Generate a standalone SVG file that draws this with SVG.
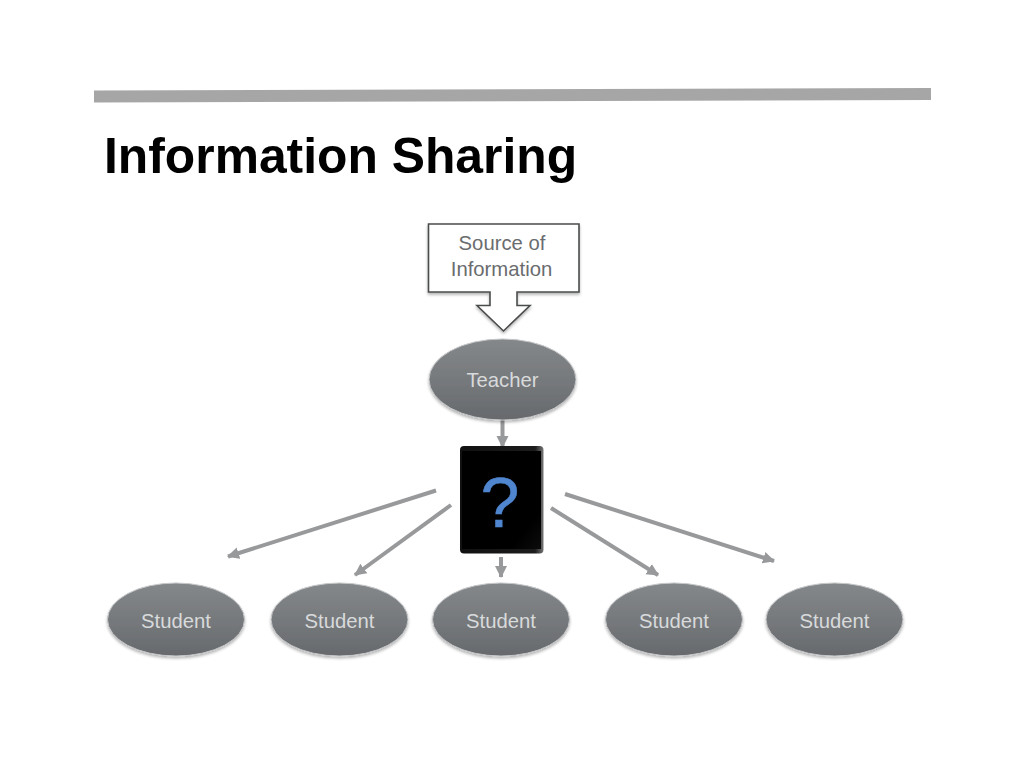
<svg xmlns="http://www.w3.org/2000/svg" width="1024" height="768" viewBox="0 0 1024 768">
<style>
.t{font-family:"Liberation Sans",Arial,sans-serif}
.title{font-size:49.800px;font-weight:700;fill:#000}
.lab{font-size:20.300px;fill:#d8dadb;text-anchor:middle}
.src{font-size:20.300px;fill:#6a6c6e;text-anchor:middle}
.node{fill:url(#g);stroke:#c4c6c8;stroke-width:1;filter:url(#s)}
.c{fill:none;stroke:#98999b;stroke-width:4;marker-end:url(#a)}
</style>
<defs>
<linearGradient id="g" x1="0" y1="0" x2="0" y2="1"><stop offset="0" stop-color="#85888a"/><stop offset="0.55" stop-color="#75787b"/><stop offset="1" stop-color="#66696c"/></linearGradient>
<linearGradient id="ed" x1="0" y1="0" x2="1" y2="0"><stop offset="0" stop-color="#111"/><stop offset="0.9" stop-color="#1c1c1c"/><stop offset="1" stop-color="#777"/></linearGradient>
<linearGradient id="sc" x1="0" y1="0" x2="1" y2="1"><stop offset="0" stop-color="#000"/><stop offset="0.8" stop-color="#000"/><stop offset="1" stop-color="#0c0c0c"/></linearGradient>
<filter id="s" x="-10%" y="-10%" width="120%" height="125%"><feGaussianBlur in="SourceAlpha" stdDeviation="1.5"/><feOffset dy="1.5"/><feComponentTransfer><feFuncA type="linear" slope="0.3"/></feComponentTransfer><feMerge><feMergeNode/><feMergeNode in="SourceGraphic"/></feMerge></filter>
<marker id="a" markerUnits="userSpaceOnUse" markerWidth="14" markerHeight="14" refX="11" refY="7" orient="auto"><path d="M0 1L12 7L0 13Z" fill="#98999b"/></marker>
</defs>
<rect width="1024" height="768" fill="#fff"/>
<polygon points="94,90.500 931,88 931,100 94,102.500" fill="#a6a6a6"/>
<text class="t title" x="104" y="173">Information Sharing</text>
<g id="connectors">
<path class="c" d="M502.500 420V447"/>
<path class="c" d="M436 490.500L228 556.500"/>
<path class="c" d="M451 505L355 575"/>
<path class="c" d="M501 557V577"/>
<path class="c" d="M551 508L658 575"/>
<path class="c" d="M565 494L774 561"/>
</g>
<g id="source">
<path d="M428.500 224H579V292H517V305.500H530L503.500 331L477 305.500H490V292H428.500Z" fill="#fff" stroke="#4a4c4e" stroke-width="1.600" filter="url(#s)"/>
<text class="t src" x="502" y="250">Source of</text>
<text class="t src" x="501.500" y="276">Information</text>
</g>
<g id="teacher"><ellipse class="node" cx="502.500" cy="379.500" rx="73.500" ry="40.500"/><text class="t lab" x="502.500" y="387">Teacher</text></g>
<g id="tablet">
<rect x="460" y="446" width="83.500" height="107.500" rx="4" fill="url(#ed)"/>
<rect x="462" y="451" width="79" height="98" fill="url(#sc)"/>
<text class="t" x="500" y="527" font-size="70" fill="#4f86cf" stroke="#4f86cf" stroke-width="0.500" text-anchor="middle">?</text>
</g>
<g id="student1"><ellipse class="node" cx="176" cy="619.500" rx="68.500" ry="36.500"/><text class="t lab" x="176" y="627.500">Student</text></g>
<g id="student2"><ellipse class="node" cx="339.500" cy="619.500" rx="68.500" ry="36.500"/><text class="t lab" x="339.500" y="627.500">Student</text></g>
<g id="student3"><ellipse class="node" cx="501" cy="619.500" rx="68.500" ry="36.500"/><text class="t lab" x="501" y="627.500">Student</text></g>
<g id="student4"><ellipse class="node" cx="674" cy="619.500" rx="68.500" ry="36.500"/><text class="t lab" x="674" y="627.500">Student</text></g>
<g id="student5"><ellipse class="node" cx="834.500" cy="619.500" rx="68.500" ry="36.500"/><text class="t lab" x="834.500" y="627.500">Student</text></g>
</svg>
